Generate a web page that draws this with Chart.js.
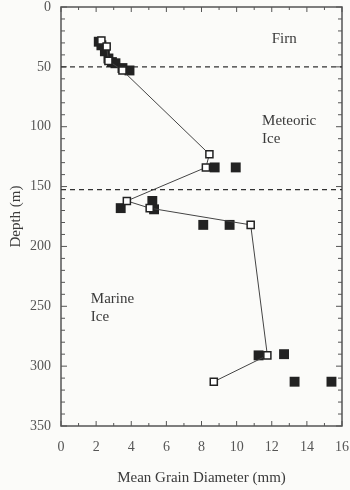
<!DOCTYPE html>
<html>
<head>
<meta charset="utf-8">
<script src="https://cdn.jsdelivr.net/npm/chart.js@4.4.0/dist/chart.umd.min.js"></script>
<style>
  html, body { margin: 0; padding: 0; background: #fbfbf9; }
  #wrap { width: 350px; height: 490px; }
</style>
</head>
<body>
<div id="wrap"><canvas id="grainChart" width="350" height="490"></canvas></div>
<script>
// Open squares, joined by the line: mean grain diameter (mm) against depth (m)
const lineDiameter = [2.3, 2.6, 2.7, 3.5, 8.45, 8.25, 3.75, 5.05, 10.8, 11.75, 8.7];
const lineDepth    = [28, 33, 45, 53, 123, 134, 162, 168, 182, 291, 313];

// Filled squares
const dotDiameter = [2.15, 2.3, 2.5, 2.7, 2.9, 3.1, 3.5, 3.9, 8.75, 9.95, 3.4, 5.2, 5.3, 8.1, 9.6, 11.25, 12.7, 13.3, 15.4];
const dotDepth    = [29, 32, 37, 43, 46, 47, 51, 53, 134, 134, 168, 162, 169, 182, 182, 291, 290, 313, 313];

// Zone boundaries (dashed) and zone names
const boundaryDepths = [50, 152.5];
const zoneNames = [['Firn'], ['Meteoric', 'Ice'], ['Marine', 'Ice']];
const zoneAnchors = [{ x: 12.0, y: 27 }, { x: 11.45, y: 95 }, { x: 1.7, y: 244 }];

const xRange = [0, 16];
const yRange = [0, 350];

const SERIF = "'Liberation Serif', 'DejaVu Serif', serif";
const INK = '#3a3a3a';

function toPoints(xs, ys) {
  return xs.map((x, i) => ({ x: x, y: ys[i] }));
}

// frame with inward ticks on all four sides
const framePlugin = {
  id: 'frameTicks',
  beforeDatasetsDraw(chart) {
    const { ctx, chartArea: a, scales } = chart;
    ctx.save();
    ctx.strokeStyle = '#555';
    ctx.lineWidth = 1.5;
    ctx.strokeRect(a.left, a.top, a.right - a.left, a.bottom - a.top);
    ctx.lineWidth = 1;
    ctx.beginPath();
    for (let d = yRange[0]; d <= yRange[1]; d += 10) {
      const py = scales.y.getPixelForValue(d);
      const len = d % 50 === 0 ? 6 : 4;
      ctx.moveTo(a.left, py); ctx.lineTo(a.left + len, py);
      ctx.moveTo(a.right, py); ctx.lineTo(a.right - len, py);
    }
    for (let v = xRange[0]; v <= xRange[1]; v += 1) {
      const px = scales.x.getPixelForValue(v);
      const len = v % 2 === 0 ? 5 : 3;
      ctx.moveTo(px, a.bottom); ctx.lineTo(px, a.bottom - len);
      ctx.moveTo(px, a.top); ctx.lineTo(px, a.top + len);
    }
    ctx.stroke();
    ctx.restore();
  },
  afterDatasetsDraw(chart) {
    const { ctx, scales } = chart;
    ctx.save();
    ctx.fillStyle = INK;
    ctx.font = '15px ' + SERIF;
    ctx.textAlign = 'left';
    ctx.textBaseline = 'middle';
    zoneNames.forEach((lines, i) => {
      const px = scales.x.getPixelForValue(zoneAnchors[i].x);
      const py = scales.y.getPixelForValue(zoneAnchors[i].y);
      lines.forEach((t, j) => ctx.fillText(t, px, py + j * 18));
    });
    ctx.restore();
  }
};

const boundarySets = boundaryDepths.map(d => ({
  data: toPoints(xRange, [d, d]),
  showLine: true,
  borderColor: '#333',
  borderWidth: 1.2,
  borderDash: [5, 4],
  pointRadius: 0
}));

new Chart(document.getElementById('grainChart'), {
  type: 'scatter',
  data: {
    datasets: [
      {
        data: toPoints(lineDiameter, lineDepth),
        showLine: true,
        borderColor: '#444',
        borderWidth: 1,
        pointStyle: 'rect',
        pointRadius: 5,
        pointBorderWidth: 1.5,
        pointBorderColor: '#222',
        pointBackgroundColor: '#fff'
      },
      {
        data: toPoints(dotDiameter, dotDepth),
        showLine: false,
        pointStyle: 'rect',
        pointRadius: 7,
        pointBorderWidth: 0,
        pointBackgroundColor: '#222'
      },
      ...boundarySets
    ]
  },
  options: {
    responsive: false,
    animation: false,
    layout: { padding: { top: 7, right: 8, left: 0, bottom: 0 } },
    plugins: { legend: { display: false }, tooltip: { enabled: false } },
    scales: {
      x: {
        type: 'linear',
        min: xRange[0],
        max: xRange[1],
        ticks: { stepSize: 2, padding: 13, color: '#555', font: { family: SERIF, size: 14 } },
        grid: { display: false, drawTicks: false },
        border: { display: false },
        title: {
          display: true,
          text: 'Mean Grain Diameter (mm)',
          color: INK,
          font: { family: SERIF, size: 15 },
          padding: { top: 0, bottom: 3 }
        },
        afterFit: s => { s.height = 64; s.paddingLeft = 0; s.paddingRight = 0; }
      },
      y: {
        type: 'linear',
        min: yRange[0],
        max: yRange[1],
        reverse: true,
        ticks: { stepSize: 50, padding: 10, color: '#555', font: { family: SERIF, size: 14 } },
        grid: { display: false, drawTicks: false },
        border: { display: false },
        title: {
          display: true,
          text: 'Depth (m)',
          color: INK,
          font: { family: SERIF, size: 15 },
          padding: { top: 7, bottom: 0 }
        },
        afterFit: s => { s.width = 61; s.paddingTop = 0; s.paddingBottom = 0; }
      }
    }
  },
  plugins: [framePlugin]
});
</script>
</body>
</html>
